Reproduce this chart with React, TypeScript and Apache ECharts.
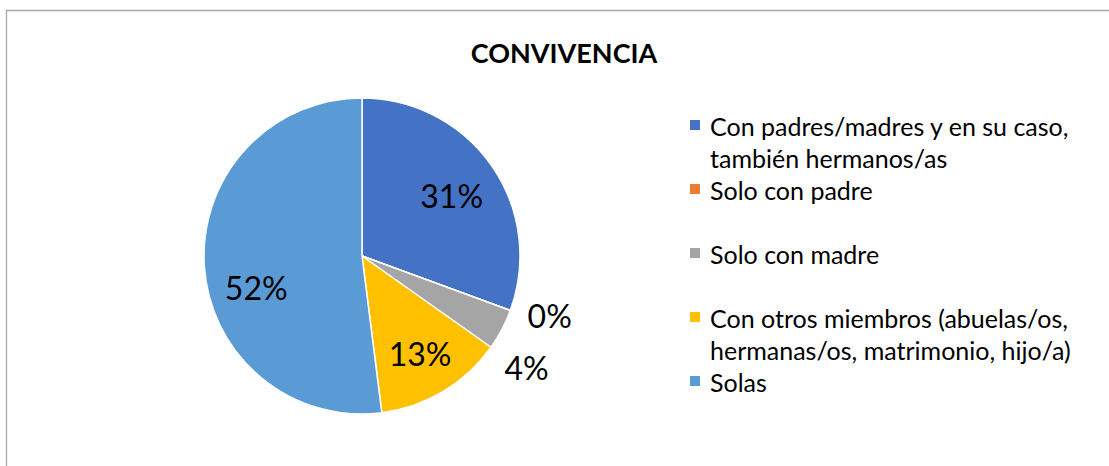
import React, { useEffect, useRef } from "react";
import * as echarts from "echarts";

// ---- data ----
const categories = [
  "Con padres/madres y en su caso, también hermanos/as",
  "Solo con padre",
  "Solo con madre",
  "Con otros miembros (abuelas/os, hermanas/os, matrimonio, hijo/a)",
  "Solas",
];
const values = [30.6, 0, 4.2, 13.2, 52.0];
const legendLines = [
  ["Con padres/madres y en su caso,", "también hermanos/as"],
  ["Solo con padre"],
  ["Solo con madre"],
  ["Con otros miembros (abuelas/os,", "hermanas/os, matrimonio, hijo/a)"],
  ["Solas"],
];
const titleText = "CONVIVENCIA";

// ---- styles ----
const colors = ["#4472C4", "#ED7D31", "#A5A5A5", "#FFC000", "#5B9BD5"];
const insideLabel = [true, false, false, true, true];
const insideOffsets = [
  { dx: -3, dy: 4 },
  { dx: 0, dy: 0 },
  { dx: 0, dy: 0 },
  { dx: 0, dy: 1 },
  { dx: 7, dy: 24 },
];
const outsideOffsets = [
  { dx: 0, dy: 0 },
  { dx: 0, dy: 1 },
  { dx: -14, dy: 32 },
  { dx: 0, dy: 0 },
  { dx: 0, dy: 0 },
];
const FONT = "Lato, 'Open Sans', sans-serif";
const pct = (v: number) => `${Math.round(v)}%`;

export default function App() {
  const ref = useRef<HTMLDivElement>(null);
  useEffect(() => {
    if (!ref.current) return;
    const chart = echarts.init(ref.current, null, { renderer: "svg" });
    const center = [362, 256];
    const R = 158;
    const legendMap: Record<string, string> = {};
    categories.forEach((c, i) => {
      const lines = legendLines[i].slice();
      if (lines.length < 2) lines.push("\u00a0");
      legendMap[c] = lines.join("\n");
    });
    const labelStyle = {
      color: "#000",
      fontFamily: FONT,
      fontSize: 32,
      formatter: (p: any) => pct(p.value),
    };
    chart.setOption({
      animation: false,
      backgroundColor: "#fff",
      title: {
        text: titleText,
        left: 564,
        top: 52,
        textAlign: "center",
        textVerticalAlign: "middle",
        padding: 0,
        textStyle: { fontFamily: FONT, fontWeight: "bold", fontSize: 27, color: "#000" },
      },
      legend: {
        orient: "vertical",
        left: 690,
        top: 110,
        padding: 0,
        itemGap: 0,
        itemWidth: 15,
        itemHeight: 64,
        icon: "path://M0,0L15,0L15,0.001L0,0.001Z M0,10h10v10h-10z M0,63.999L15,63.999L15,64L0,64Z",
        itemStyle: { borderWidth: 0 },
        data: categories,
        formatter: (name: string) => legendMap[name],
        textStyle: { fontFamily: FONT, fontSize: 25, lineHeight: 32, color: "#000" },
        selectedMode: false,
      },
      graphic: [
        {
          type: "rect",
          silent: true,
          z: -10,
          shape: { x: 6.5, y: 10.5, width: 1200, height: 600 },
          style: { fill: "none", stroke: "#A6A6A6", lineWidth: 1.3 },
        },
      ],
      series: [
        {
          type: "pie",
          name: "main",
          center,
          radius: [0, R],
          startAngle: 90,
          clockwise: true,
          avoidLabelOverlap: false,
          silent: true,
          emphasis: { disabled: true },
          itemStyle: { borderColor: "#fff", borderWidth: 1.5 },
          labelLayout: (p: any) => outsideOffsets[p.dataIndex],
          data: categories.map((c, i) => ({
            name: c,
            value: values[i],
            itemStyle: { color: colors[i] },
            label: {
              show: !insideLabel[i],
              position: "outside",
              distanceToLabelLine: 5,
              ...labelStyle,
            },
            labelLine: { show: false, length: 12, length2: 1 },
          })),
        },
        {
          type: "pie",
          name: "labels",
          center,
          radius: [62, R],
          startAngle: 90,
          clockwise: true,
          avoidLabelOverlap: false,
          silent: true,
          z: 5,
          emphasis: { disabled: true },
          labelLayout: (p: any) => insideOffsets[p.dataIndex],
          itemStyle: { color: "rgba(0,0,0,0)", borderWidth: 0 },
          data: categories.map((c, i) => ({
            name: c,
            value: values[i],
            itemStyle: { color: "rgba(0,0,0,0)" },
            label: { show: insideLabel[i], position: "inside", ...labelStyle },
            labelLine: { show: false },
          })),
        },
      ],
    });
    return () => chart.dispose();
  }, []);
  return (
    <div
      ref={ref}
      style={{ position: "fixed", left: 0, top: 0, width: 1109, height: 466 }}
    />
  );
}
